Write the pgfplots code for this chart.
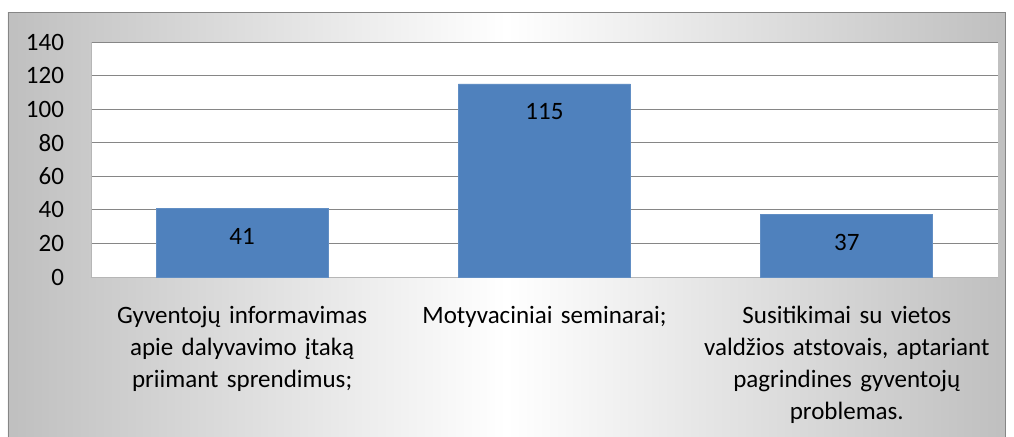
\documentclass[border=0pt]{standalone}
\usepackage{fontspec}
\setmainfont{Carlito}
\usepackage{pgfplots}
\pgfplotsset{compat=1.18}
\definecolor{barblue}{HTML}{4F81BD}
\definecolor{gridgray}{HTML}{868686}
\begin{document}
\begin{tikzpicture}
% page size and chart frame (1 px = 0.5pt)
\path[use as bounding box] (-45.5pt,-79.5pt) rectangle (461.5pt,138.5pt);
\shade[left color=gray!50, right color=gray!50, middle color=white, draw=gridgray]
  (-41.5pt,-80pt) rectangle (457pt,132.5pt);
\fill[white] (0,0) rectangle (453.5pt,117.5pt);
\begin{axis}[
    at={(0,0)}, anchor=south west,
    scale only axis,
    width=453.5pt, height=117.5pt,
    xmin=-0.5, xmax=2.5,
    ymin=0, ymax=140,
    ytick={0,20,...,140},
    xtick=data,
    xticklabels={{Gyventojų informavimas\\apie dalyvavimo įtaką\\priimant sprendimus;},
                 {Motyvaciniai seminarai;},
                 {Susitikimai su vietos\\valdžios atstovais, aptariant\\pagrindines gyventojų\\problemas.}},
    xticklabel style={text width=170pt, align=center, anchor=north, yshift=-11pt, font=\fontsize{12.5}{16}\selectfont},
    yticklabel style={font=\fontsize{12.5}{14}\selectfont, xshift=-10pt},
    /pgf/number format/assume math mode=true,
    major tick length=0pt,
    axis x line=bottom, axis y line=left,
    axis line style={gridgray!60, -},
    ymajorgrids, grid style={gridgray, line width=0.5pt},
    ybar, bar width=86pt,
    nodes near coords,
    every node near coord/.append style={anchor=center, yshift=-14pt, font=\fontsize{12.5}{14}\selectfont, text=black},
    clip=false,
]
\addplot[fill=barblue, draw=barblue!90!white] coordinates {(0,41) (1,115) (2,37)};
\end{axis}
\end{tikzpicture}
\end{document}
